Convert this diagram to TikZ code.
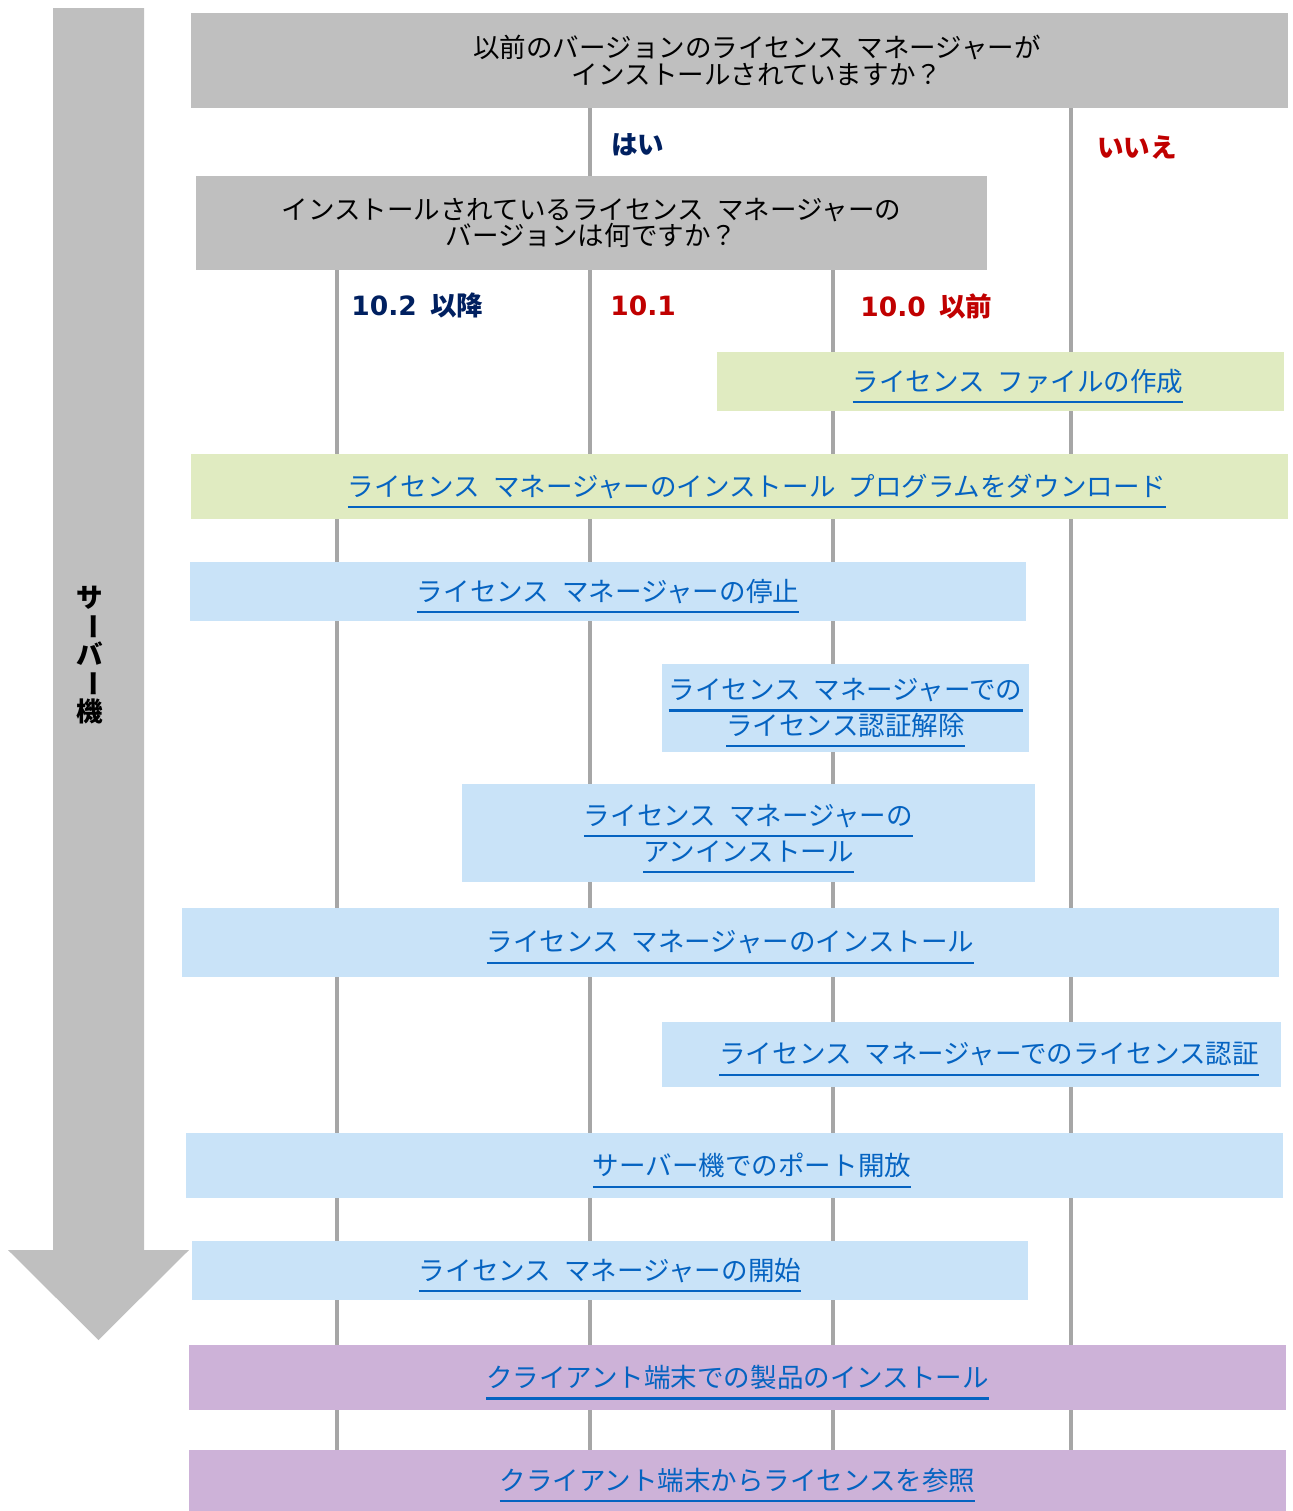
\documentclass[tikz,border=0pt]{standalone}
\usepackage{fontspec}
\usepackage{graphicx}
\setmainfont[WordSpace=2.2]{Noto Sans CJK JP}
\newfontfamily\latin{DejaVu Sans}
\usetikzlibrary{positioning}
\pgfdeclarelayer{bg}
\pgfsetlayers{bg,main}
\definecolor{qgray}{HTML}{BFBFBF}
\definecolor{lgray}{HTML}{A6A6A6}
\definecolor{sgreen}{HTML}{E0EBC1}
\definecolor{sblue}{HTML}{C9E3F8}
\definecolor{spurple}{HTML}{CDB2D8}
\definecolor{lnkblue}{HTML}{0563C1}
\definecolor{yesblue}{HTML}{002060}
\definecolor{nored}{HTML}{C00000}
\newcommand{\lnk}[1]{\setbox0\hbox{#1}\rlap{\smash{\color{lnkblue}\rule[-0.45em]{\wd0}{1.2pt}}}\box0}
\newcommand{\pad}{\hspace*{0.7cm}}
\tikzset{
  x=0.02cm, y=-0.02cm,
  box/.style 2 args={rectangle, inner sep=0pt, minimum width=#1*0.02cm, minimum height=#2*0.02cm,
    align=center, font=\fontsize{15.1pt}{20.4pt}\selectfont},
  question/.style={fill=qgray, text=black, font=\fontsize{15.1pt}{15pt}\selectfont},
  green/.style={fill=sgreen, text=lnkblue},
  blue/.style={fill=sblue, text=lnkblue},
  purple/.style={fill=spurple, text=lnkblue},
  answer/.style={anchor=west, inner sep=0pt, font=\fontsize{15.1pt}{16pt}\selectfont\bfseries},
  vline/.style={draw=lgray, line width=2.8pt},
}

\begin{document}
\begin{tikzpicture}
  \useasboundingbox (0,0) rectangle (1292,1511);

  % flow arrow on the left
  \fill[qgray] (53,8) -- (144,8) -- (144,1250) -- (189,1250) -- (98.5,1340)
               -- (8,1250) -- (53,1250) -- cycle;
  \node[font=\fontsize{15.1pt}{14.5pt}\selectfont\bfseries, align=center, inner sep=0pt] (srv) at (90,655)
    {サ\\\rotatebox[origin=c]{-90}{ー}\\バ\\\rotatebox[origin=c]{-90}{ー}\\機};

  % questions
  \node[box={1097}{95},question] (q0) at (739.5,60.5)
    {\pad 以前のバージョンのライセンス マネージャーが\\\pad インストールされていますか？};
  \node[box={791}{94},question]  (q1) at (591.5,223)
    {インストールされているライセンス マネージャーの\\バージョンは何ですか？};

  % steps
  \node[box={567}{59},green]   (s0)  at (1000.5,381.5) {\pad\lnk{ライセンス ファイルの作成}};
  \node[box={1097}{65},green]  (s1)  at (739.5,486.5)  {\pad\lnk{ライセンス マネージャーのインストール プログラムをダウンロード}};
  \node[box={836}{59},blue]    (s2)  at (608,591.5)    {\lnk{ライセンス マネージャーの停止}};
  \node[box={367}{88},blue]    (s3)  at (845.5,708)    {\lnk{ライセンス マネージャーでの}\\\lnk{ライセンス認証解除}};
  \node[box={573}{98},blue]    (s4)  at (748.5,833)    {\lnk{ライセンス マネージャーの}\\\lnk{アンインストール}};
  \node[box={1097}{69},blue]   (s5)  at (730.5,942.5)  {\lnk{ライセンス マネージャーのインストール}};
  \node[box={619}{65},blue]    (s6)  at (971.5,1054.5) {\pad\lnk{ライセンス マネージャーでのライセンス認証}};
  \node[box={1097}{65},blue]   (s7)  at (734.5,1165.5) {\pad\lnk{サーバー機でのポート開放}};
  \node[box={836}{59},blue]    (s8)  at (610,1270.5)   {\lnk{ライセンス マネージャーの開始}};
  \node[box={1097}{65},purple] (s9)  at (737.5,1377.5) {\lnk{クライアント端末での製品のインストール}};
  \node[box={1097}{61},purple] (s10) at (737.5,1480.5) {\lnk{クライアント端末からライセンスを参照}};

  % branch lines
  \coordinate (lnew) at (337,0);
  \coordinate (lyes) at (590,0);
  \coordinate (lold) at (833,0);
  \coordinate (lno)  at (1071,0);
  \begin{pgfonlayer}{bg}
    \draw[vline] (q0.south -| lyes) -- (s10.north -| lyes);
    \draw[vline] (q0.south -| lno)  -- (s10.north -| lno);
    \draw[vline] (q1.south -| lnew) -- (s10.north -| lnew);
    \draw[vline] (q1.south -| lold) -- (s10.north -| lold);
  \end{pgfonlayer}

  % answers
  \node[answer,text=yesblue] (a0) at (611,145)  {はい};
  \node[answer,text=nored]   (a1) at (1097,147) {いいえ};
  \node[answer,text=yesblue] (a2) at (351,305)  {{\latin 10.2} 以降};
  \node[answer,text=nored]   (a3) at (610,306)  {\latin 10.1};
  \node[answer,text=nored]   (a4) at (860,306)  {{\latin 10.0} 以前};
\end{tikzpicture}
\end{document}
